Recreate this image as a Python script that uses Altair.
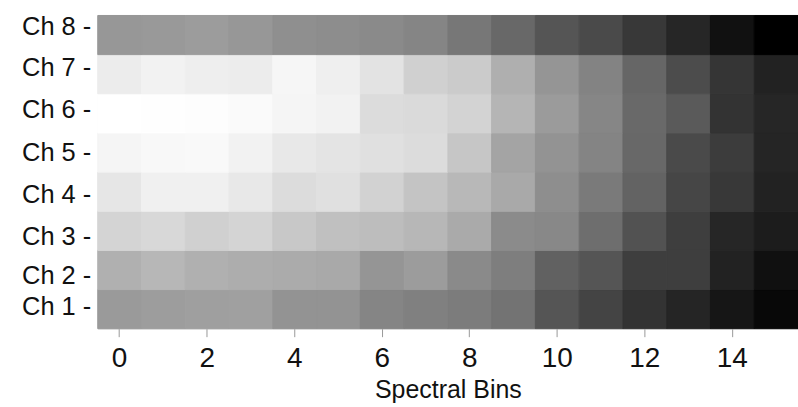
import altair as alt
import pandas as pd

bins = list(range(16))
channels = ["Ch 1", "Ch 2", "Ch 3", "Ch 4", "Ch 5", "Ch 6", "Ch 7", "Ch 8"]

ch1 = [154, 157, 159, 160, 147, 147, 133, 128, 124, 115, 85, 68, 51, 37, 22, 8]
ch2 = [176, 183, 176, 173, 171, 169, 149, 156, 138, 126, 97, 85, 62, 62, 34, 16]
ch3 = [212, 216, 208, 212, 200, 192, 189, 183, 170, 139, 136, 110, 82, 62, 38, 28]
ch4 = [230, 240, 240, 232, 220, 224, 210, 196, 184, 169, 142, 122, 99, 70, 56, 34]
ch5 = [245, 248, 249, 242, 232, 228, 224, 220, 198, 164, 147, 132, 104, 74, 60, 37]
ch6 = [255, 254, 253, 250, 245, 242, 220, 218, 211, 181, 155, 134, 105, 90, 51, 38]
ch7 = [236, 242, 238, 236, 246, 239, 227, 208, 203, 175, 149, 131, 102, 76, 53, 34]
ch8 = [151, 153, 156, 151, 143, 141, 138, 133, 119, 104, 85, 74, 56, 38, 17, 0]

rows = [ch1, ch2, ch3, ch4, ch5, ch6, ch7, ch8]
records = []
for name, vals in zip(channels, rows):
    for b, v in zip(bins, vals):
        records.append({"channel": name, "bin": b, "value": v})
df = pd.DataFrame(records)

label_offsets = {"Ch 8": -8, "Ch 7": -6, "Ch 6": -3, "Ch 5": 1,
                 "Ch 4": 3, "Ch 3": 6, "Ch 2": 6, "Ch 1": -2}
offset_cond = {
    "condition": [{"test": f"datum.value == '{k}'", "value": v} for k, v in label_offsets.items()],
    "value": 0,
}

gray = alt.Scale(domain=[0, 255], range=["#000000", "#ffffff"], interpolate="rgb")

chart = alt.Chart(df).mark_rect(strokeWidth=1).encode(
    x=alt.X(
        "bin:O",
        scale=alt.Scale(paddingInner=0, paddingOuter=0),
        axis=alt.Axis(
            values=[0, 2, 4, 6, 8, 10, 12, 14],
            labelAngle=0,
            title="Spectral Bins",
            domain=False,
            tickColor="#999999",
            tickSize=8,
            tickWidth=1,
            labelFont="Liberation Sans",
            labelFontSize=28,
            labelColor="#111111",
            labelPadding=8,
            titleFont="Liberation Sans",
            titleFontSize=25,
            titleFontWeight="normal",
            titleColor="#111111",
            titlePadding=5,
        ),
    ),
    y=alt.Y(
        "channel:N",
        sort=list(reversed(channels)),
        scale=alt.Scale(paddingInner=0, paddingOuter=0),
        axis=alt.Axis(
            title=None,
            domain=False,
            ticks=False,
            labelExpr="datum.label + ' -'",
            labelFont="Liberation Sans",
            labelFontSize=25.5,
            labelColor="#111111",
            labelPadding=7,
            labelOffset=offset_cond,
        ),
    ),
    color=alt.Color("value:Q", scale=gray, legend=None),
    stroke=alt.Stroke("value:Q", scale=gray, legend=None),
).properties(
    width=702,
    height=314,
    autosize=alt.AutoSizeParams(type="none"),
    padding={"left": 98, "top": 15, "right": 0, "bottom": 78},
).configure_view(
    stroke="#bbbbbb",
    strokeWidth=1,
).configure(background="white")

chart.save("out.html", embed_options={"renderer": "svg", "actions": False})
